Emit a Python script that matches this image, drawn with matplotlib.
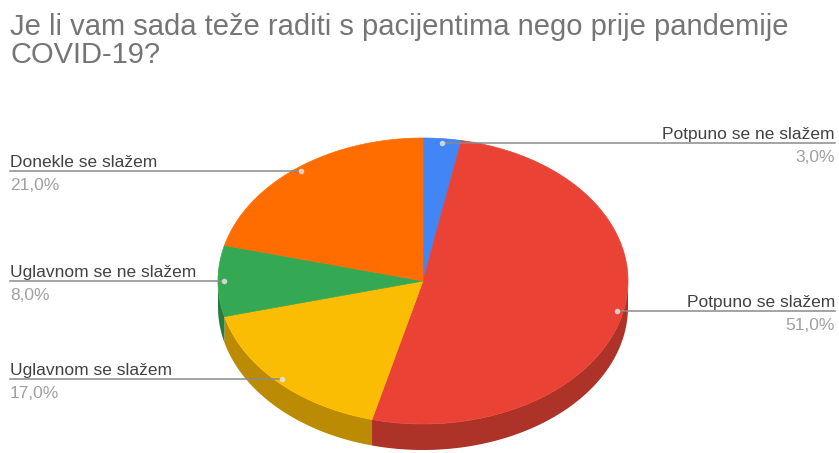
import numpy as np
import matplotlib
matplotlib.use("Agg")
import matplotlib.pyplot as plt
from matplotlib.patches import Polygon
from matplotlib.colors import to_rgb

# data
labels = ["Potpuno se ne slažem", "Potpuno se slažem", "Uglavnom se slažem",
          "Uglavnom se ne slažem", "Donekle se slažem"]
values = [3.0, 51.0, 17.0, 8.0, 21.0]
colors = ["#4285F4", "#EA4335", "#FBBC04", "#34A853", "#FF6D01"]
title = "Je li vam sada teže raditi s pacijentima nego prije pandemije\nCOVID-19?"

plt.rcParams['font.family'] = ['Liberation Sans', 'DejaVu Sans']

W, H = 839, 453
fig = plt.figure(figsize=(W / 100, H / 100), dpi=100)
ax = fig.add_axes([0, 0, 1, 1])
ax.set_xlim(0, W)
ax.set_ylim(H, 0)
ax.axis("off")

# ellipse geometry of the tilted pie (pixels)
cx, cy, rx, ry, depth = 423, 281, 205, 143, 26


def pt(theta, dy=0.0, r=1.0):
    t = np.radians(theta)
    return cx + r * rx * np.cos(t), cy - r * ry * np.sin(t) + dy


def darker(c, f=0.74):
    r, g, b = to_rgb(c)
    return (r * f, g * f, b * f)


total = sum(values)
starts, ends = [], []
cum = 0.0
for v in values:
    starts.append(90 - cum / total * 360)
    cum += v
    ends.append(90 - cum / total * 360)

# sides (only the front half is visible)
for s, e, c in zip(starts, ends, colors):
    lo, hi = max(e, -180), min(s, 0)
    if lo >= hi:
        continue
    th = np.linspace(lo, hi, 80)
    top = [pt(t) for t in th]
    bot = [pt(t, depth) for t in th[::-1]]
    ax.add_patch(Polygon(top + bot, closed=True, fc=darker(c), ec="none", zorder=1))

# top faces
for s, e, c in zip(starts, ends, colors):
    th = np.linspace(s, e, 120)
    poly = [(cx, cy)] + [pt(t) for t in th]
    ax.add_patch(Polygon(poly, closed=True, fc=c, ec=c, lw=0.5, zorder=2))

# labels with leader lines
line_col = "#8a8a8a"
for lab, v, s, e in zip(labels, values, starts, ends):
    mid = (s + e) / 2
    ax_, ay_ = pt(mid, r=0.97)
    pct = f"{v:.1f}%".replace(".", ",")
    if np.cos(np.radians(mid)) >= 0:
        ax.plot([ax_, 835], [ay_, ay_], color=line_col, lw=1.1, zorder=3)
        ax.text(835, ay_ - 4, lab, ha="right", va="baseline", fontsize=12.5, color="#424242")
        ax.text(835, ay_ + 7, pct, ha="right", va="top", fontsize=12.5, color="#a0a0a0")
    else:
        ax.plot([10, ax_], [ay_, ay_], color=line_col, lw=1.1, zorder=3)
        ax.text(10, ay_ - 4, lab, ha="left", va="baseline", fontsize=12.5, color="#424242")
        ax.text(10, ay_ + 7, pct, ha="left", va="top", fontsize=12.5, color="#a0a0a0")
    ax.plot(ax_, ay_, "o", ms=4, mfc="#e8e8e8", mec="none", alpha=0.8, zorder=4)

ax.text(10, 13, title, ha="left", va="top", fontsize=21, color="#757575",
        linespacing=1.02)

fig.savefig("out.png", dpi=100)
